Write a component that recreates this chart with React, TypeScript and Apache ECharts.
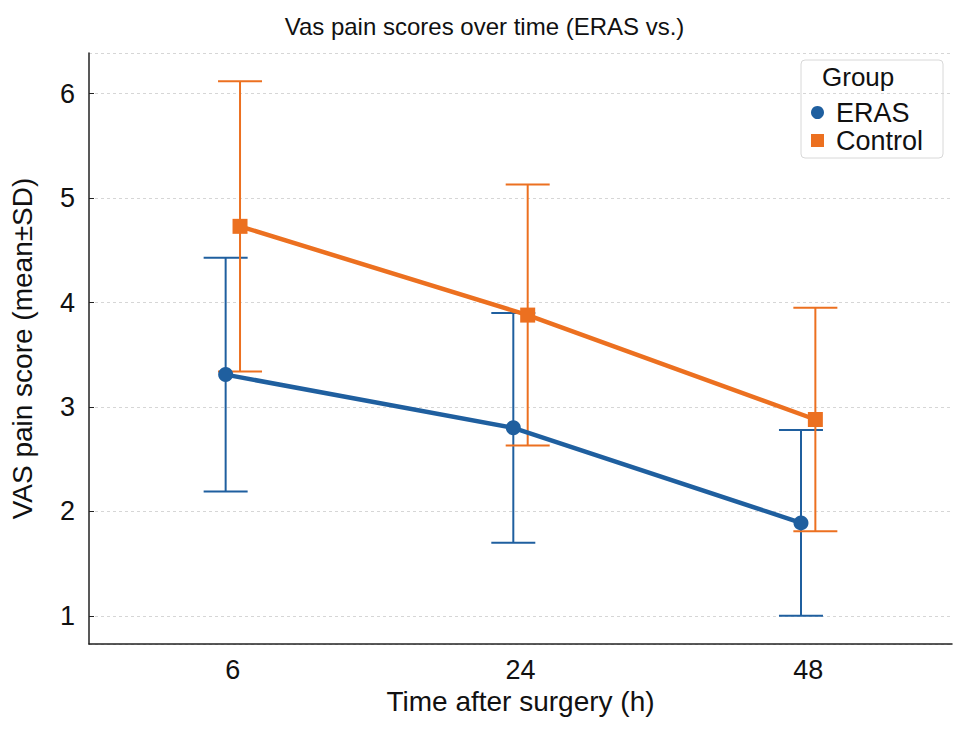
import React, { useEffect, useRef } from "react";
import * as echarts from "echarts";

const hours = ["6", "24", "48"];
const erasMean = [3.31, 2.8, 1.89];
const erasSd = [1.12, 1.1, 0.89];
const controlMean = [4.73, 3.88, 2.88];
const controlSd = [1.39, 1.25, 1.07];

const BLUE = "#1f5f9f";
const ORANGE = "#ec7020";
const FONT = "Liberation Sans, Arial, sans-serif";
const OFFSET = 0.025;

const errorRows = (mean: number[], sd: number[], shift: number) =>
  mean.map((m, i) => [i + shift, m - sd[i], m + sd[i]]);

const errorBar = (color: string) => (params: any, api: any) => {
  const x = api.value(0);
  const lo = api.coord([x, api.value(1)]);
  const hi = api.coord([x, api.value(2)]);
  const half = 22;
  const style = { stroke: color, lineWidth: 2 };
  return {
    type: "group",
    children: [
      { type: "line", shape: { x1: lo[0], y1: lo[1], x2: hi[0], y2: hi[1] }, style },
      { type: "line", shape: { x1: hi[0] - half, y1: hi[1], x2: hi[0] + half, y2: hi[1] }, style },
      { type: "line", shape: { x1: lo[0] - half, y1: lo[1], x2: lo[0] + half, y2: lo[1] }, style },
    ],
  };
};

const App = () => {
  const ref = useRef<HTMLDivElement>(null);

  useEffect(() => {
    document.body.style.margin = "0";
    if (!ref.current) return;
    const chart = echarts.init(ref.current, undefined, { renderer: "svg" });

    chart.setOption({
      animation: false,
      textStyle: { fontFamily: FONT },
      title: {
        text: "Vas pain scores over time (ERAS vs.)",
        left: "center",
        top: 9,
        textStyle: { fontSize: 24, fontWeight: "normal", color: "#111", fontFamily: FONT },
      },
      grid: { left: 89, right: 17, top: 53, bottom: 85 },
      xAxis: [
        {
          type: "category",
          data: hours,
          boundaryGap: true,
          name: "Time after surgery (h)",
          nameLocation: "middle",
          nameGap: 42,
          nameTextStyle: { fontSize: 28, color: "#111", fontFamily: FONT },
          axisLine: { lineStyle: { color: "#222", width: 1.5 } },
          axisTick: { inside: true, alignWithLabel: true, length: 5, lineStyle: { color: "#222" } },
          axisLabel: { fontSize: 27, color: "#111", margin: 12, fontFamily: FONT },
          splitLine: { show: false },
        },
        {
          type: "value",
          min: -0.5,
          max: 2.5,
          show: false,
          splitLine: { show: false },
        },
      ],
      yAxis: {
        type: "value",
        min: 0.73,
        max: 6.39,
        splitNumber: 5,
        name: "VAS pain score (mean±SD)",
        nameLocation: "middle",
        nameGap: 53,
        nameTextStyle: { fontSize: 28, color: "#111", fontFamily: FONT },
        axisLine: { show: true, onZero: false, lineStyle: { color: "#222", width: 1.5 } },
        axisTick: { show: true, inside: true, length: 5, lineStyle: { color: "#222" } },
        axisLabel: {
          fontSize: 27,
          color: "#111",
          margin: 14,
          fontFamily: FONT,
          showMinLabel: false,
          showMaxLabel: false,
        },
        splitLine: { show: true, lineStyle: { color: "#d6d6d6", type: [3, 3], width: 1 } },
      },
      legend: {
        orient: "vertical",
        left: 806,
        top: 94,
        itemWidth: 13,
        itemHeight: 13,
        itemGap: 1,
        textStyle: {
          fontSize: 27,
          lineHeight: 27,
          color: "#111",
          fontFamily: FONT,
          padding: [0, 0, 0, 7],
        },
        data: [
          { name: "ERAS", icon: "circle", itemStyle: { color: BLUE } },
          { name: "Control", icon: "rect", itemStyle: { color: ORANGE } },
        ],
      },
      graphic: [
        {
          type: "rect",
          shape: { x: 801, y: 60, width: 142, height: 98, r: 4 },
          style: { fill: "#fff", stroke: "#d8d8d8", lineWidth: 1 },
          z: -1,
        },
        {
          type: "text",
          x: 822,
          y: 64,
          style: { text: "Group", fontSize: 26, fill: "#111", fontFamily: FONT },
        },
      ],
      series: [
        {
          name: "ERAS",
          type: "custom",
          xAxisIndex: 1,
          renderItem: errorBar(BLUE),
          data: errorRows(erasMean, erasSd, -OFFSET),
          encode: { x: 0, y: [1, 2] },
          itemStyle: { color: BLUE },
          z: 1,
          silent: true,
        },
        {
          name: "Control",
          type: "custom",
          xAxisIndex: 1,
          renderItem: errorBar(ORANGE),
          data: errorRows(controlMean, controlSd, OFFSET),
          encode: { x: 0, y: [1, 2] },
          itemStyle: { color: ORANGE },
          z: 1,
          silent: true,
        },
        {
          name: "ERAS",
          type: "line",
          xAxisIndex: 1,
          data: erasMean.map((m, i) => [i - OFFSET, m]),
          symbol: "circle",
          symbolSize: 15,
          itemStyle: { color: BLUE },
          lineStyle: { color: BLUE, width: 4.5 },
          z: 3,
        },
        {
          name: "Control",
          type: "line",
          xAxisIndex: 1,
          data: controlMean.map((m, i) => [i + OFFSET, m]),
          symbol: "rect",
          symbolSize: 15,
          itemStyle: { color: ORANGE },
          lineStyle: { color: ORANGE, width: 4.5 },
          z: 4,
        },
      ],
    });

    return () => {
      chart.dispose();
    };
  }, []);

  return <div ref={ref} style={{ width: "969px", height: "729px" }}></div>;
};

export default App;
